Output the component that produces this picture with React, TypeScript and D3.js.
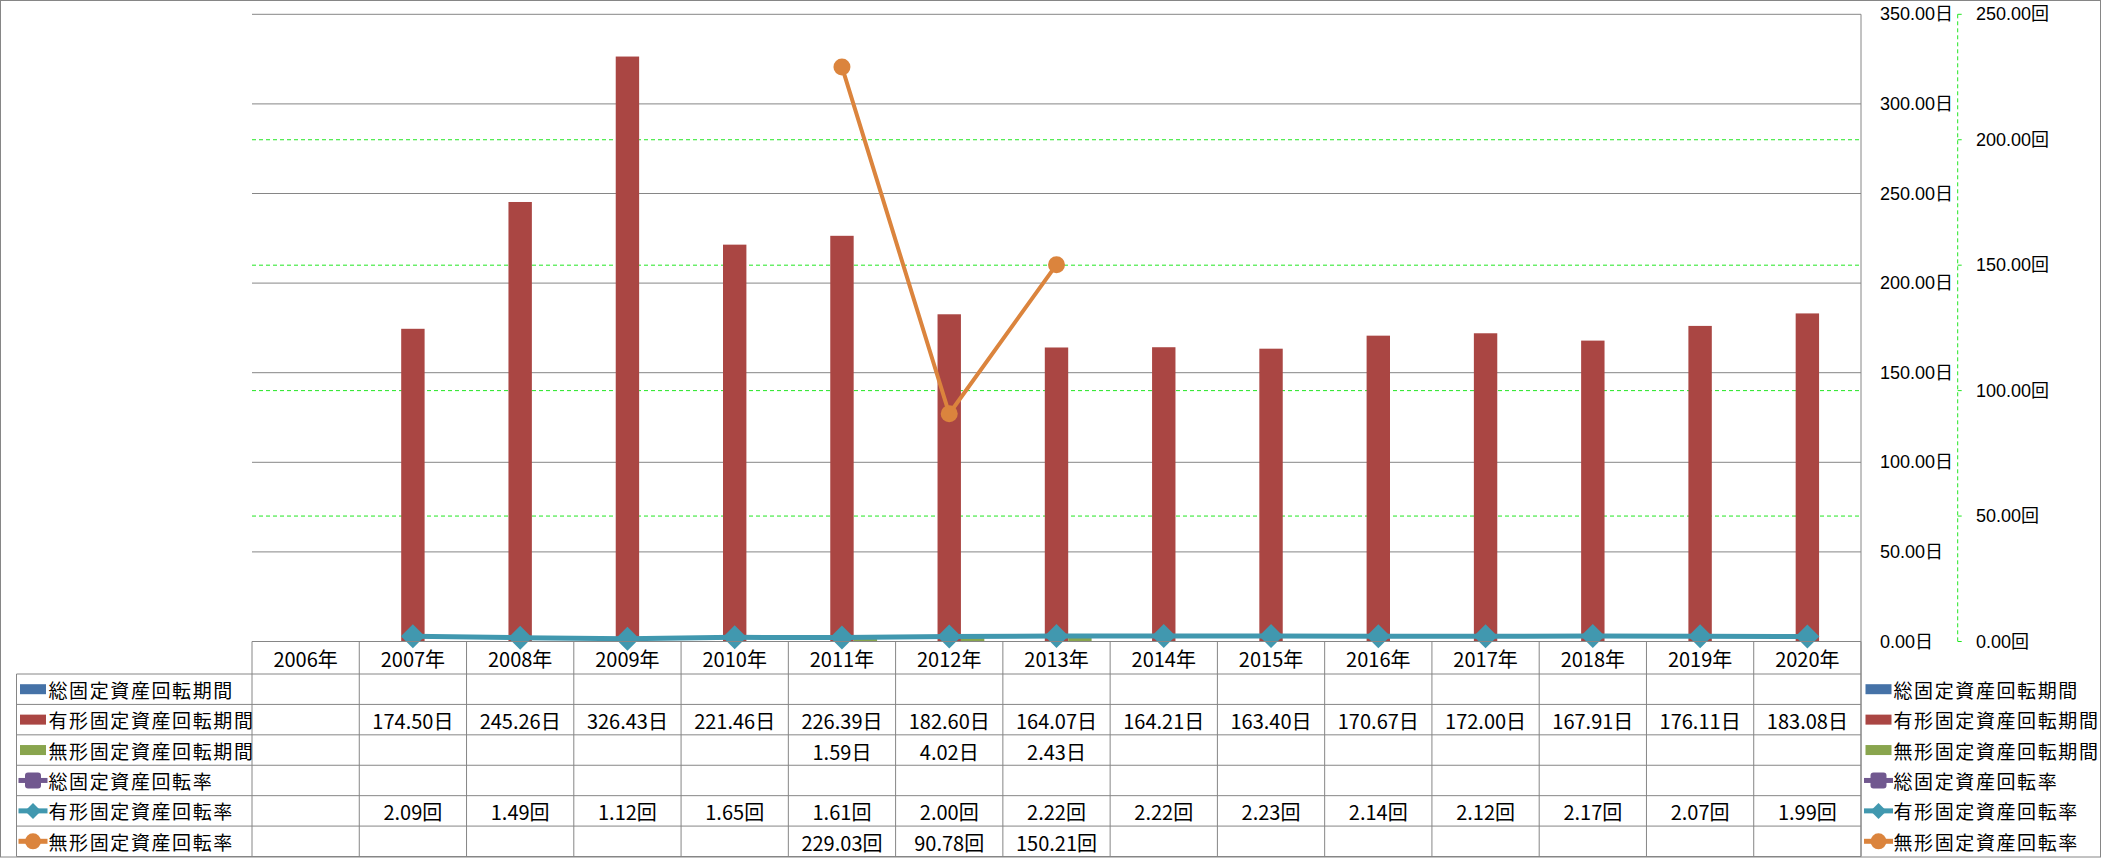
import React from 'react';
import * as d3 from 'd3';

const years = ['2006年','2007年','2008年','2009年','2010年','2011年','2012年','2013年','2014年','2015年','2016年','2017年','2018年','2019年','2020年'];
const seriesNames = ['総固定資産回転期間','有形固定資産回転期間','無形固定資産回転期間','総固定資産回転率','有形固定資産回転率','無形固定資産回転率'];
const totalPeriod: (number | null)[] = [null,null,null,null,null,null,null,null,null,null,null,null,null,null,null];
const tangiblePeriod: (number | null)[] = [null,174.50,245.26,326.43,221.46,226.39,182.60,164.07,164.21,163.40,170.67,172.00,167.91,176.11,183.08];
const intangiblePeriod: (number | null)[] = [null,null,null,null,null,1.59,4.02,2.43,null,null,null,null,null,null,null];
const totalRate: (number | null)[] = [null,null,null,null,null,null,null,null,null,null,null,null,null,null,null];
const tangibleRate: (number | null)[] = [null,2.09,1.49,1.12,1.65,1.61,2.00,2.22,2.22,2.23,2.14,2.12,2.17,2.07,1.99];
const intangibleRate: (number | null)[] = [null,null,null,null,null,229.03,90.78,150.21,null,null,null,null,null,null,null];
const leftTicks = [0,50,100,150,200,250,300,350];
const rightTicks = [0,50,100,150,200,250];

const seriesColors = ['#4572A7','#AA4643','#89A54E','#71588F','#4198AF','#DB843D'];
const seriesValues = [totalPeriod, tangiblePeriod, intangiblePeriod, totalRate, tangibleRate, intangibleRate];
const seriesUnits = ['日','日','日','回','回','回'];
const seriesKind = ['bar','bar','bar','square','diamond','circle'];

const NUM_FONT = '"Liberation Sans Narrow", "Arial Narrow", "Noto Sans CJK JP", sans-serif';
const CJK_FONT = '"Noto Sans CJK JP", sans-serif';
const AXIS_FONT = '"Liberation Sans", Arial, "Noto Sans CJK JP", sans-serif';

const W = 2101, H = 858;
const plotL = 252, plotR = 1861, plotT = 14.3, plotB = 641.5;
const tableLeft = 16.5, headerB = 674, tableB = 856.5;
const GRID = '#868686';

function Marker({ kind, x, y, size, color }: { kind: string; x: number; y: number; size: number; color: string }) {
  if (kind === 'diamond') {
    const s = size / 2;
    return <path d={`M${x},${y - s}L${x + s},${y}L${x},${y + s}L${x - s},${y}Z`} fill={color} />;
  }
  if (kind === 'circle') return <circle cx={x} cy={y} r={size / 2} fill={color} />;
  if (kind === 'square') return <rect x={x - size / 2} y={y - size / 2} width={size} height={size} rx={3} fill={color} />;
  return null;
}

export default function App() {
  const x = d3.scaleBand<string>().domain(years).range([plotL, plotR]).paddingInner(0).paddingOuter(0);
  const bw = x.bandwidth();
  const sub = d3.scaleBand<number>().domain([0, 1, 2]).range([0, bw]).paddingInner(0).paddingOuter(0.792);
  const y1 = d3.scaleLinear().domain([0, 350]).range([plotB, plotT]);
  const y2 = d3.scaleLinear().domain([0, 250]).range([plotB, plotT]);
  const cx = (i: number) => (x(years[i]) as number) + bw / 2;

  const rowH = (tableB - headerB) / 6;
  const rowY = (r: number) => headerB + r * rowH;

  const lineGen = d3.line<[number, number | null]>()
    .defined(d => d[1] !== null)
    .x(d => cx(d[0]))
    .y(d => y2(d[1] as number));

  const secAxisX = 1957.7;

  return (
    <div>
      <style>{`body{margin:0;}`}</style>
      <svg width={W} height={H} style={{ display: 'block', background: '#fff' }}>
        <rect x={0.5} y={0.5} width={2100} height={856.5} fill="#fff" stroke={GRID} strokeWidth={1} />
        {/* secondary dashed gridlines */}
        {rightTicks.filter(t => t > 0 && t < 250).map(t => (
          <line key={'g2' + t} x1={plotL} x2={plotR} y1={y2(t)} y2={y2(t)} stroke="#22e622" strokeWidth={1} strokeDasharray="4 3" />
        ))}
        {/* primary gridlines */}
        {leftTicks.filter(t => t > 0).map(t => (
          <line key={'g1' + t} x1={plotL} x2={plotR} y1={y1(t)} y2={y1(t)} stroke={GRID} strokeWidth={1} />
        ))}
        {/* bars */}
        {[0, 1, 2].map(s => seriesValues[s].map((v, i) => v === null ? null : (
          <rect key={`b${s}-${i}`} x={(x(years[i]) as number) + (sub(s) as number)} width={sub.bandwidth()}
            y={y1(v)} height={plotB - y1(v)} fill={seriesColors[s]} />
        )))}
        {/* primary axis line */}
        <line x1={plotR} x2={plotR} y1={plotT} y2={tableB} stroke={GRID} strokeWidth={1} />
        {/* primary tick labels */}
        {leftTicks.map(t => (
          <text key={'l1' + t} x={1880} y={y1(t)} dominantBaseline="central" fontFamily={AXIS_FONT} fontSize={18} fill="#000">
            {t.toFixed(2)}日
          </text>
        ))}
        {/* secondary axis */}
        <line x1={secAxisX} x2={secAxisX} y1={plotT} y2={plotB} stroke="#22e622" strokeWidth={1} strokeDasharray="4 3" />
        {rightTicks.map(t => (
          <line key={'t2' + t} x1={secAxisX} x2={secAxisX + 4} y1={y2(t)} y2={y2(t)} stroke="#22e622" strokeWidth={1} />
        ))}
        {rightTicks.map(t => (
          <text key={'l2' + t} x={1976} y={y2(t)} dominantBaseline="central" fontFamily={AXIS_FONT} fontSize={18} fill="#000">
            {t.toFixed(2)}回
          </text>
        ))}
        {/* lines */}
        {[3, 4, 5].map(s => {
          const pts = seriesValues[s].map((v, i) => [i, v] as [number, number | null]);
          return (
            <g key={'ln' + s}>
              <path d={lineGen(pts) || ''} fill="none" stroke={seriesColors[s]} strokeWidth={s === 5 ? 4 : 5} strokeLinejoin="round" />
              {pts.filter(p => p[1] !== null).map(p => (
                <Marker key={p[0]} kind={seriesKind[s]} x={cx(p[0])} y={y2(p[1] as number)} size={s === 5 ? 17 : 24} color={seriesColors[s]} />
              ))}
            </g>
          );
        })}
        {/* table lines */}
        <line x1={plotL} x2={plotR} y1={plotB} y2={plotB} stroke={GRID} strokeWidth={1} />
        {d3.range(7).map(r => (
          <line key={'hr' + r} x1={tableLeft} x2={plotR} y1={rowY(r)} y2={rowY(r)} stroke={GRID} strokeWidth={1} />
        ))}
        <line x1={tableLeft} x2={tableLeft} y1={headerB} y2={tableB} stroke={GRID} strokeWidth={1} />
        {d3.range(years.length + 1).map(i => {
          const xx = plotL + i * bw;
          return <line key={'vc' + i} x1={xx} x2={xx} y1={plotB} y2={tableB} stroke={GRID} strokeWidth={1} />;
        })}
        {/* header */}
        {years.map((yr, i) => (
          <text key={'h' + i} x={cx(i)} y={(plotB + headerB) / 2 + 1} textAnchor="middle" dominantBaseline="central" fontFamily={NUM_FONT} fontSize={20} fill="#000">{yr}</text>
        ))}
        {/* table values */}
        {seriesValues.map((vals, s) => vals.map((v, i) => v === null ? null : (
          <text key={`v${s}-${i}`} x={cx(i)} y={rowY(s) + rowH / 2 + 1} textAnchor="middle" dominantBaseline="central" fontFamily={NUM_FONT} fontSize={20} fill="#000">
            {v.toFixed(2)}{seriesUnits[s]}
          </text>
        )))}
        {/* legends (left in table, right) */}
        {seriesNames.map((name, s) => {
          const yc = rowY(s) + rowH / 2;
          const items = [{ sx: 18.5, tx: 48.5 }, { sx: 1864, tx: 1893.5 }];
          return items.map((it, k) => (
            <g key={`lg${s}-${k}`}>
              {seriesKind[s] === 'bar' ? (
                <rect x={it.sx + 1.5} y={yc - 5} width={26} height={10} fill={seriesColors[s]} />
              ) : (
                <g>
                  <line x1={it.sx} x2={it.sx + 29} y1={yc} y2={yc} stroke={seriesColors[s]} strokeWidth={5} />
                  <Marker kind={seriesKind[s]} x={it.sx + 14.5} y={yc} size={16} color={seriesColors[s]} />
                </g>
              )}
              <text x={it.tx} y={yc} dominantBaseline="central" fontFamily={CJK_FONT} fontSize={19} letterSpacing={1.6} fill="#000">{name}</text>
            </g>
          ));
        })}
      </svg>
    </div>
  );
}
